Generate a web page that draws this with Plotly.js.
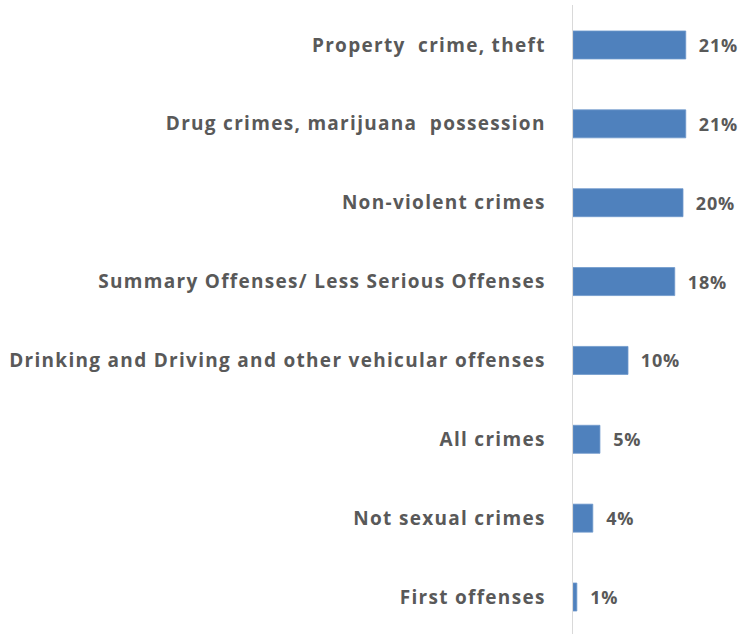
<!DOCTYPE html>
<html>
<head>
<meta charset="utf-8">
<script src="https://cdn.plot.ly/plotly-3.0.1.min.js"></script>
<style>
html,body{margin:0;padding:0;background:#fff;}
#chart{width:746px;height:634px;}
#chart .ytick text{letter-spacing:1.3px;}
#chart .annotation-text{letter-spacing:0.8px;}
</style>
</head>
<body>
<div id="chart"></div>
<script>
const categories = [
  "Property  crime, theft",
  "Drug crimes, marijuana  possession",
  "Non-violent crimes",
  "Summary Offenses/ Less Serious Offenses",
  "Drinking and Driving and other vehicular offenses",
  "All crimes",
  "Not sexual crimes",
  "First offenses"
];
const values = [20.5, 20.5, 20.0, 18.5, 10.0, 4.9, 3.6, 0.7];
const valueLabels = ["21%", "21%", "20%", "18%", "10%", "5%", "4%", "1%"];

const fontFam = "'Open Sans', sans-serif";
const trace = {
  type: 'bar',
  orientation: 'h',
  x: values,
  y: categories,
  marker: {color: '#4F81BD', line: {color: '#6F98CC', width: 0.8}},
  hoverinfo: 'none'
};
const annotations = values.map((v, i) => ({
  x: v, y: categories[i], xref: 'x', yref: 'y',
  text: valueLabels[i], showarrow: false, xanchor: 'left', yanchor: 'middle',
  xshift: 12,
  font: {family: fontFam, size: 18, color: '#595959', weight: 'bold'}
}));
const layout = {
  width: 746, height: 634,
  margin: {l: 573, r: 8, t: 5, b: 0},
  paper_bgcolor: '#fff', plot_bgcolor: '#fff',
  bargap: 0.645,
  showlegend: false,
  xaxis: {range: [0, 30], visible: false, fixedrange: true},
  yaxis: {
    range: [7.469, -0.507], showline: true, linecolor: '#D9D9D9', linewidth: 1.5,
    showgrid: false, zeroline: false, ticks: '', ticklabelstandoff: 22,
    tickfont: {family: fontFam, size: 19, color: '#595959', weight: 'bold'}
  },
  annotations: annotations
};
Plotly.newPlot('chart', [trace], layout, {displayModeBar: false, staticPlot: true});
</script>
</body>
</html>
